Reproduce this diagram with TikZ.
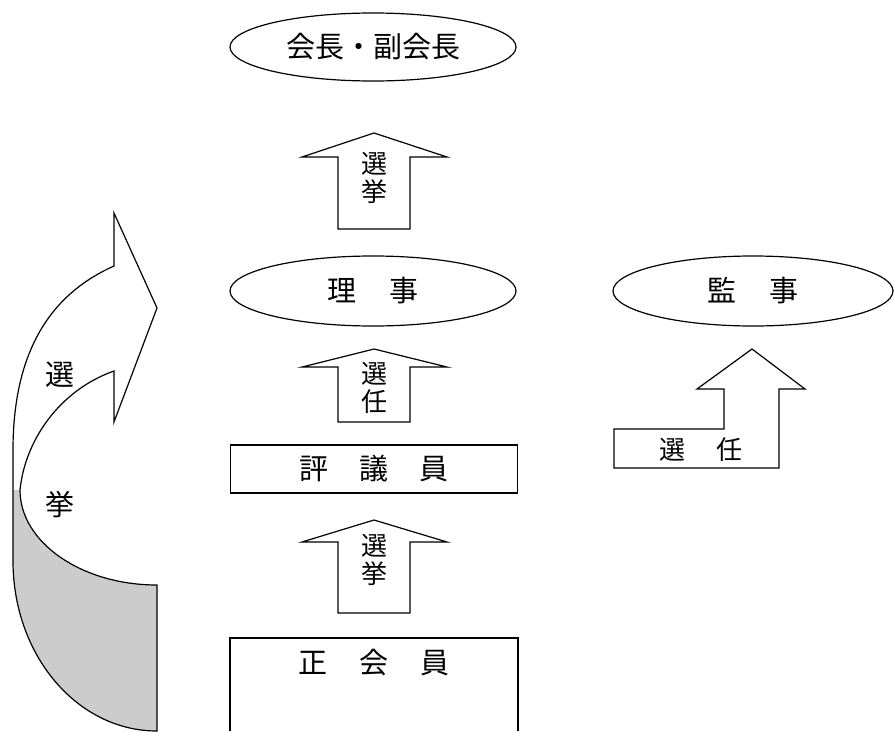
\documentclass[tikz,border=0pt]{standalone}
\usepackage{fontspec}
\newfontfamily\jp{Noto Sans CJK JP}
\usetikzlibrary{shapes.geometric}
\begin{document}
\begin{tikzpicture}[x=1pt,y=-1pt, line width=1.2pt, line join=miter,
  box/.style={draw, rectangle, inner sep=0pt},
  oval/.style={draw, ellipse, inner sep=0pt},
  big/.style={font=\jp\fontsize{29}{34}\selectfont, inner sep=0pt},
  side/.style={font=\jp\fontsize{29}{32}\selectfont, inner sep=0pt},
  small/.style={font=\jp\fontsize{26}{28}\selectfont, align=center, inner sep=0pt},
  blockarrow/.style={draw, fill=white}]
\useasboundingbox (0,0) rectangle (894,731);

% ovals
\node[oval, big, minimum width=286pt, minimum height=68pt] (pres) at (373,47) {会長・副会長};
\node[oval, big, minimum width=286pt, minimum height=70pt] (riji) at (373,291) {理\hspace{33pt}事};
\node[oval, big, minimum width=280pt, minimum height=70pt] (kanji) at (753,291) {監\hspace{33pt}事};

% boxes
\node[box, big, minimum width=287pt, minimum height=48pt] (hyogi) at (374,469) {評\hspace{31pt}議\hspace{31pt}員};
\coordinate (sbl) at (230,731);
\coordinate (stl) at (230,638);
\coordinate (str) at (518,638);
\coordinate (sbr) at (518,731);
\draw (sbl) -- (stl) -- (str) -- (sbr);
\node[big] (sei) at (374,663) {正\hspace{32pt}会\hspace{32pt}員};

% up arrows
\draw[blockarrow] (374,133) -- (447,157) -- (410,157) -- (410,229) -- (338,229) -- (338,157) -- (302,157) -- cycle;
\node[small] (t1) at (374,178) {選\\挙};
\draw[blockarrow] (374,349) -- (447,367) -- (410,367) -- (410,422) -- (338,422) -- (338,367) -- (302,367) -- cycle;
\node[small] (t2) at (374,388) {選\\任};
\draw[blockarrow] (374,520) -- (447,542) -- (410,542) -- (410,613) -- (338,613) -- (338,542) -- (302,542) -- cycle;
\node[small] (t3) at (374,560) {選\\挙};

% L-shaped arrow
\draw[blockarrow] (752,349) -- (805,389) -- (779,389) -- (779,468) -- (614,468) -- (614,429) -- (724,429) -- (724,389) -- (697,389) -- cycle;
\node[small] (t4) at (701,450) {選\hspace{32pt}任};

% curved arrow
\fill[gray!40] (20,490) .. controls (20,542) and (81,585) .. (157,585) -- (157,731)
  .. controls (77,731) and (13,655) .. (13,561) -- (13,490) -- cycle;
\draw (114,266) -- (114,213) -- (157,308) -- (114,422) -- (114,371)
  .. controls (60,390) and (25,440) .. (20,490)
  .. controls (20,542) and (81,585) .. (157,585) -- (157,731)
  .. controls (77,731) and (13,655) .. (13,561) -- (13,450)
  .. controls (13,340) and (60,290) .. (114,266) -- cycle;
\node[side] (c1) at (60,375) {選};
\node[side] (c2) at (60,505) {挙};
\end{tikzpicture}
\end{document}
